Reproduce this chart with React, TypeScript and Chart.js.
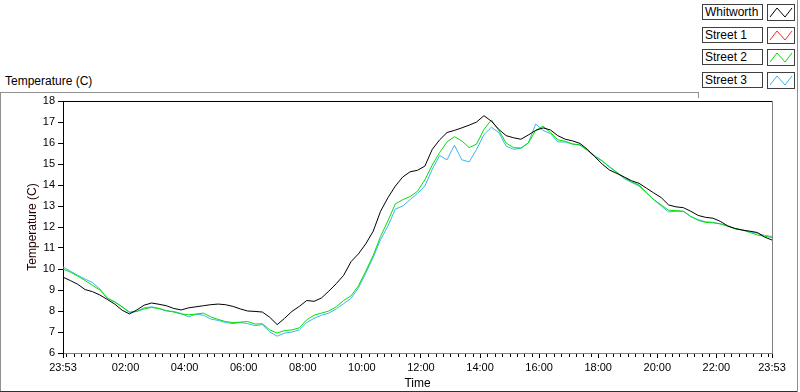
import React, { useEffect, useRef } from "react";
import { Chart, registerables } from "chart.js";

Chart.register(...registerables);

// sampling step of the series (minutes after 23:53)
const SAMPLE_STEP_MIN = 15;

const whitworth = [
  9.61, 9.45, 9.27, 9.02, 8.92, 8.76, 8.55, 8.33, 8.04, 7.86,
  8.05, 8.28, 8.38, 8.32, 8.25, 8.12, 8.05, 8.15, 8.2, 8.25,
  8.3, 8.33, 8.3, 8.22, 8.1, 8.0, 7.98, 7.95, 7.7, 7.35,
  7.65, 7.98, 8.22, 8.5, 8.46, 8.62, 8.95, 9.3, 9.7, 10.35,
  10.72, 11.2, 11.8, 12.75, 13.4, 13.95, 14.38, 14.63, 14.7, 14.9,
  15.7, 16.15, 16.5, 16.6, 16.72, 16.85, 17.0, 17.3, 17.04, 16.65,
  16.35, 16.25, 16.18, 16.38, 16.6, 16.72, 16.62, 16.35, 16.18, 16.1,
  15.98, 15.7, 15.35, 15.0, 14.71, 14.55, 14.38, 14.2, 14.08, 13.85,
  13.62, 13.4, 13.05, 12.96, 12.92, 12.75, 12.55, 12.46, 12.42, 12.27,
  12.05, 11.93, 11.85, 11.8, 11.74, 11.52, 11.38,
];

const street1: number[] = [];

const street2 = [
  10.0, 9.85, 9.66, 9.45, 9.22, 9.0, 8.62, 8.42, 8.2, 7.95,
  7.98, 8.1, 8.17, 8.12, 8.02, 7.95, 7.86, 7.82, 7.85, 7.9,
  7.72, 7.6, 7.5, 7.45, 7.47, 7.5, 7.38, 7.39, 7.1, 6.95,
  7.07, 7.1, 7.2, 7.58, 7.8, 7.9, 8.0, 8.2, 8.5, 8.72,
  9.2, 9.9, 10.65, 11.55, 12.3, 13.1, 13.3, 13.45, 13.7, 14.25,
  14.95, 15.55, 16.05, 16.3, 16.1, 15.78, 15.95, 16.65, 17.1, 16.6,
  16.0, 15.78, 15.76, 16.0, 16.6, 16.8, 16.5, 16.15, 16.08, 15.95,
  15.9, 15.65, 15.35, 15.15, 14.87, 14.6, 14.35, 14.15, 14.0, 13.65,
  13.3, 13.05, 12.8, 12.78, 12.75, 12.5, 12.32, 12.22, 12.2, 12.15,
  12.04, 11.92, 11.86, 11.74, 11.62, 11.56, 11.5,
];

const street3 = [
  10.1, 9.9, 9.7, 9.52, 9.35, 9.05, 8.6, 8.45, 8.2, 7.92,
  7.98, 8.15, 8.2, 8.12, 8.0, 7.98, 7.88, 7.72, 7.85, 7.8,
  7.62, 7.55, 7.45, 7.4, 7.45, 7.4, 7.3, 7.35, 7.0, 6.8,
  6.95, 7.0, 7.1, 7.45, 7.65, 7.8, 7.9, 8.1, 8.35, 8.6,
  9.1, 9.8, 10.55, 11.4, 12.05, 12.85, 13.0, 13.3, 13.6, 13.95,
  14.75, 15.4, 15.2, 15.9, 15.2, 15.1, 15.7, 16.4, 16.75, 16.5,
  15.85, 15.7, 15.75, 16.0, 16.9, 16.6, 16.45, 16.05, 16.05, 15.95,
  15.92, 15.65, 15.4, 15.15, 14.85, 14.6, 14.3, 14.12, 13.95, 13.62,
  13.3, 13.0, 12.72, 12.75, 12.75, 12.5, 12.35, 12.25, 12.22, 12.15,
  12.05, 11.92, 11.86, 11.78, 11.7, 11.6, 11.55,
];

const seriesNames = ["Whitworth", "Street 1", "Street 2", "Street 3"];
const seriesColors = ["#000000", "#ff2a2a", "#00e000", "#3cb4f2"];
const seriesValues = [whitworth, street1, street2, street3];

// x ticks, in minutes after 23:53
const xTickMinutes = [0, 127, 247, 367, 487, 607, 727, 847, 967, 1087, 1207, 1327, 1440];
const xTickLabels = [
  "23:53", "02:00", "04:00", "06:00", "08:00", "10:00", "12:00",
  "14:00", "16:00", "18:00", "20:00", "22:00", "23:53",
];
const X_MIN = 0;
const X_MAX = 1440;
const MINOR_FIRST = 7; // 00:00
const MINOR_STEP = 15;
const Y_MIN = 6;
const Y_MAX = 18;

const FONT = "'Liberation Sans', Arial, sans-serif";

const framePlugin = {
  id: "frame",
  afterDraw(chart: any) {
    const { ctx, chartArea } = chart;
    const { left, top, right, bottom } = chartArea;
    const xs = chart.scales.x;
    ctx.save();
    ctx.lineWidth = 1;
    // top border
    ctx.strokeStyle = "#000000";
    ctx.beginPath();
    ctx.moveTo(left, Math.floor(top) + 0.5);
    ctx.lineTo(right + 1, Math.floor(top) + 0.5);
    ctx.stroke();
    // right border
    ctx.strokeStyle = "#808080";
    ctx.beginPath();
    ctx.moveTo(Math.floor(right) + 0.5, top);
    ctx.lineTo(Math.floor(right) + 0.5, bottom);
    ctx.stroke();
    // minor ticks
    ctx.strokeStyle = "#000000";
    for (let m = MINOR_FIRST; m < X_MAX; m += MINOR_STEP) {
      if (xTickMinutes.includes(m)) continue;
      const px = Math.round(xs.getPixelForValue(m)) + 0.5;
      ctx.beginPath();
      ctx.moveTo(px, Math.floor(bottom) + 1);
      ctx.lineTo(px, Math.floor(bottom) + 4);
      ctx.stroke();
    }
    ctx.restore();
  },
};

function ChartCanvas() {
  const ref = useRef<HTMLCanvasElement | null>(null);
  useEffect(() => {
    if (!ref.current) return;
    const chart = new Chart(ref.current, {
      type: "line",
      data: {
        datasets: seriesNames.map((name, i) => ({
          label: name,
          data: seriesValues[i].map((v, k) => ({ x: k * SAMPLE_STEP_MIN, y: v })),
          borderColor: seriesColors[i],
          backgroundColor: seriesColors[i],
          borderWidth: 1,
          pointRadius: 0,
          tension: 0,
          fill: false,
        })),
      },
      options: {
        responsive: false,
        animation: false,
        devicePixelRatio: 1,
        layout: { padding: { left: 0, top: 101, right: 28, bottom: 0 } },
        plugins: {
          legend: { display: false },
          tooltip: { enabled: false },
          title: { display: false },
        },
        scales: {
          x: {
            type: "linear",
            min: X_MIN,
            max: X_MAX,
            afterBuildTicks: (s: any) => {
              s.ticks = xTickMinutes.map((v) => ({ value: v }));
            },
            afterFit: (s: any) => {
              s.height = 39;
            },
            ticks: {
              autoSkip: false,
              maxRotation: 0,
              padding: 3,
              color: "#000000",
              font: { family: FONT, size: 11 },
              callback: (v: any) => {
                const idx = xTickMinutes.indexOf(Number(v));
                return idx >= 0 ? xTickLabels[idx] : "";
              },
            },
            grid: {
              drawOnChartArea: false,
              drawTicks: true,
              tickLength: 5,
              color: "#000000",
            },
            border: { display: true, color: "#808080" },
            title: {
              display: true,
              text: "Time",
              color: "#000000",
              font: { family: FONT, size: 12 },
              padding: { top: 0, bottom: 1 },
            },
          },
          y: {
            min: Y_MIN,
            max: Y_MAX,
            afterFit: (s: any) => {
              s.width = 63;
            },
            ticks: {
              stepSize: 1,
              padding: 3,
              color: "#000000",
              font: { family: FONT, size: 11 },
            },
            grid: {
              drawOnChartArea: false,
              drawTicks: true,
              tickLength: 5,
              color: "#000000",
            },
            border: { display: true, color: "#000000" },
            title: {
              display: true,
              text: "Temperature (C)",
              color: "#200000",
              font: { family: FONT, size: 12 },
              padding: { top: 25, bottom: 0 },
            },
          },
        },
      },
      plugins: [framePlugin],
    } as any);
    return () => chart.destroy();
  }, []);
  return (
    <canvas
      ref={ref}
      width={800}
      height={392}
      style={{ position: "absolute", left: 0, top: 0, width: 800, height: 392 }}
    />
  );
}

function Legend() {
  const rowTops = [4, 27, 49, 72];
  return (
    <>
      {seriesNames.map((name, i) => (
        <React.Fragment key={name}>
          <div
            style={{
              position: "absolute",
              left: 702,
              top: rowTops[i],
              width: 61,
              height: 16,
              boxSizing: "border-box",
              border: "1px solid #404040",
              background: "#ffffff",
              font: `12px ${FONT}`,
              lineHeight: "14px",
              paddingLeft: 2,
              color: "#000000",
              whiteSpace: "nowrap",
            }}
          >
            {name}
          </div>
          <div
            style={{
              position: "absolute",
              left: 767,
              top: rowTops[i],
              width: 28,
              height: 17,
              boxSizing: "border-box",
              border: "1px solid #404040",
              background: "#ffffff",
            }}
          >
            <svg width="26" height="15" style={{ display: "block" }}>
              <polyline
                points="2,12 9,3 17,12 24,3"
                fill="none"
                stroke={seriesColors[i]}
                strokeWidth="1"
              />
            </svg>
          </div>
        </React.Fragment>
      ))}
    </>
  );
}

export default function App() {
  useEffect(() => {
    document.body.style.margin = "0";
  }, []);
  return (
    <div
      style={{
        position: "relative",
        width: 800,
        height: 392,
        background: "#ffffff",
        overflow: "hidden",
        fontFamily: FONT,
      }}
    >
      <style>{"body{margin:0}"}</style>
      {/* panel frame */}
      <div style={{ position: "absolute", left: 0, top: 92, width: 698, height: 1, background: "#909090" }} />
      <div style={{ position: "absolute", left: 0, top: 92, width: 1, height: 300, background: "#909090" }} />
      <div style={{ position: "absolute", left: 0, top: 391, width: 798, height: 1, background: "#303030" }} />
      <div style={{ position: "absolute", left: 797, top: 0, width: 1, height: 392, background: "#909090" }} />
      <div style={{ position: "absolute", left: 698, top: 92, width: 1, height: 6, background: "#909090" }} />
      <div
        style={{
          position: "absolute",
          left: 5,
          top: 74,
          font: `12px ${FONT}`,
          lineHeight: "14px",
          color: "#000000",
          whiteSpace: "nowrap",
        }}
      >
        Temperature (C)
      </div>
      <ChartCanvas />
      <Legend />
    </div>
  );
}
